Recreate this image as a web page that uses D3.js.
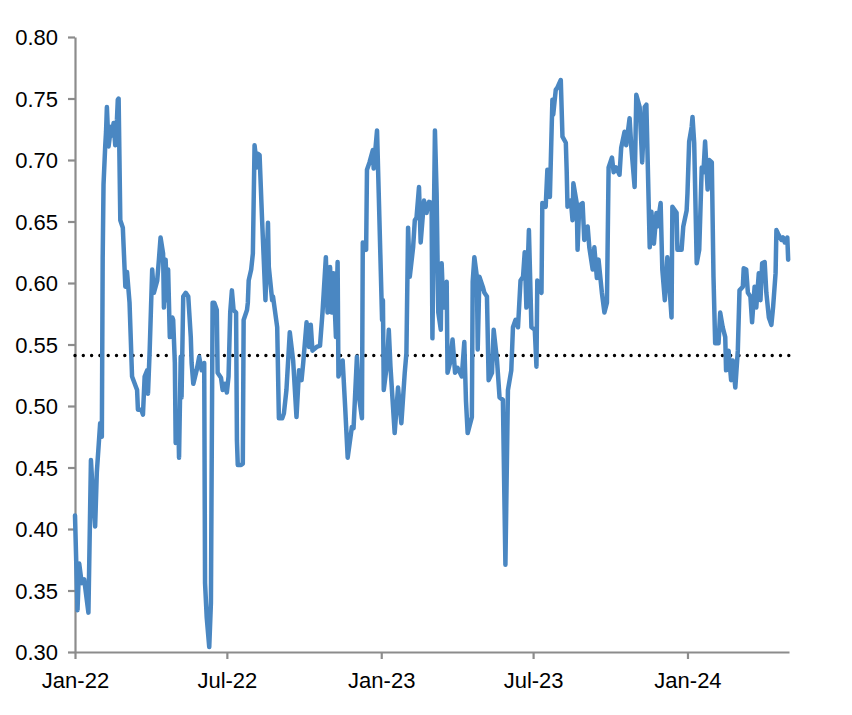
<!DOCTYPE html>
<html>
<head>
<meta charset="utf-8">
<script src="https://cdn.jsdelivr.net/npm/d3@7"></script>
<style>
  body { margin: 0; background: #fff; }
  #chart text { font-family: "Liberation Sans", Arial, sans-serif; }
</style>
</head>
<body>
<div id="chart"></div>
<script>
// series: days since 1 Jan 2022 and the value on that day
const startDate = new Date(2022, 0, 1);
const endDate = new Date(2024, 4, 1);

const days = [
    0,3,5,8,11,13,16,19,21,24,
    26,30,32,33,34,36,37,38,40,43,
    44,46,48,50,51,52,54,57,58,60,
    62,65,68,74,75,79,81,83,86,87,
    89,92,94,98,100,102,105,106,108,110,
    111,113,116,117,119,120,123,124,126,127,
    129,132,135,138,139,141,145,148,151,154,
    155,157,160,162,164,166,168,169,170,174,
    176,179,181,183,185,187,189,192,193,194,
    198,200,201,205,206,207,210,212,214,217,
    218,220,223,224,227,230,231,235,236,241,
    243,247,249,252,256,260,264,267,270,272,
    276,279,281,283,288,292,295,299,301,304,
    306,308,311,313,314,319,322,325,330,332,
    336,339,342,343,347,348,351,355,356,360,
    362,366,367,368,372,374,376,381,385,389,
    393,395,397,399,403,405,407,410,412,416,
    419,422,425,426,429,431,433,436,437,439,
    443,444,447,450,453,456,461,464,466,468,
    473,474,476,479,480,482,486,488,491,493,
    497,499,503,506,510,513,516,520,522,525,
    528,531,534,536,538,541,544,548,550,551,
    556,557,561,563,566,569,570,573,575,579,
    581,585,586,587,591,593,594,598,599,601,
    605,607,611,613,617,619,622,624,628,631,
    634,636,640,642,645,649,651,655,657,661,
    663,667,669,673,676,679,681,685,687,690,
    693,694,698,700,703,706,709,711,712,717,
    718,723,725,729,730,732,735,736,738,741,
    744,747,749,751,754,756,759,761,763,767,
    769,772,775,776,779,782,784,787,790,792,
    796,797,800,802,805,807,810,812,815,817,
    819,822,824,827,830,832,835,836,838,842,
    844,846,849,850
];

const values = [
    .411,.334,.372,.356,.359,.348,.332,.456,.432,.402,
    .446,.486,.475,.620,.680,.711,.723,.743,.711,.727,
    .720,.730,.712,.733,.749,.750,.651,.645,.629,.597,
    .609,.584,.524,.513,.497,.497,.493,.524,.529,.510,
    .545,.611,.592,.602,.619,.637,.624,.580,.619,.586,
    .611,.556,.572,.570,.535,.470,.494,.458,.540,.507,
    .589,.592,.589,.556,.535,.518,.529,.540,.529,.535,
    .356,.328,.304,.340,.584,.584,.580,.578,.527,.523,
    .513,.518,.511,.524,.576,.594,.578,.576,.472,.452,
    .452,.453,.570,.578,.584,.602,.611,.624,.712,.694,
    .705,.704,.651,.635,.586,.649,.613,.586,.589,.564,
    .490,.490,.494,.513,.560,.537,.491,.529,.521,.535,
    .568,.548,.566,.545,.548,.549,.576,.621,.576,.613,
    .576,.608,.556,.617,.524,.537,.499,.458,.483,.482,
    .540,.505,.490,.633,.627,.692,.698,.708,.693,.724,
    .673,.570,.586,.513,.535,.562,.532,.478,.515,.486,
    .527,.543,.645,.605,.629,.651,.653,.678,.633,.667,
    .657,.666,.665,.555,.724,.673,.576,.562,.616,.580,
    .601,.527,.535,.554,.527,.531,.524,.552,.504,.478,
    .491,.601,.621,.605,.546,.605,.597,.592,.589,.521,
    .527,.562,.537,.507,.505,.371,.513,.529,.564,.570,
    .564,.602,.605,.625,.580,.643,.564,.562,.532,.602,
    .592,.665,.662,.692,.670,.749,.737,.757,.759,.765,
    .719,.714,.692,.662,.667,.651,.681,.665,.627,.663,
    .665,.635,.646,.629,.611,.629,.604,.619,.592,.576,
    .584,.694,.702,.690,.694,.688,.710,.723,.712,.734,
    .711,.678,.753,.743,.698,.743,.745,.629,.658,.632,
    .657,.646,.665,.611,.586,.621,.592,.572,.662,.657,
    .627,.627,.646,.659,.673,.715,.727,.735,.714,.616,
    .627,.694,.690,.715,.676,.700,.698,.605,.551,.551,
    .576,.564,.556,.529,.545,.521,.537,.515,.545,.594,
    .597,.612,.611,.592,.589,.568,.597,.580,.608,.586,
    .616,.617,.592,.572,.566,.580,.608,.643,.640,.635,
    .637,.633,.637,.619
];

// dotted reference level
const averageLevel = 0.541;

const yTicks = [0.30, 0.35, 0.40, 0.45, 0.50, 0.55, 0.60, 0.65, 0.70, 0.75, 0.80];
const xTickDates = ["2022-01-01", "2022-07-01", "2023-01-01", "2023-07-01", "2024-01-01"];

class line_chart{

    constructor(div_id, width, height){
        var self = this;

        self.margin = {left: 75, right: 63, top: 37, bottom: 63}
        self.width = width - self.margin.left - self.margin.right;
        self.height = height - self.margin.top - self.margin.bottom;

        self.svg = d3.select(`#${div_id}`).append("svg")
            .attr("width", width)
            .attr("height", height)

        self.viz = self.svg.append("g")
            .attr("transform", `translate(${self.margin.left}, ${self.margin.top})`)

        self.xScale = d3.scaleTime()
            .range([0, self.width])
            .domain([startDate, endDate])

        self.yScale = d3.scaleLinear()
            .range([self.height, 0])
            .domain([0.30, 0.80])

        self.data = days.map((d, i) => ({date: d3.timeDay.offset(startDate, d), value: values[i]}))
        if (days.length !== values.length) console.log("length mismatch", days.length, values.length)

        self.draw()
    }

    draw(){
        var self = this;
        let axisColor = "#8c8c8c";

        self.yAxis = d3.axisLeft()
            .scale(self.yScale)
            .tickValues(yTicks)
            .tickFormat(d3.format(".2f"))
            .tickSize(7)
            .tickSizeOuter(0)
            .tickPadding(10)

        self.xAxis = d3.axisBottom()
            .scale(self.xScale)
            .tickValues(xTickDates.map(s => d3.timeParse("%Y-%m-%d")(s)))
            .tickFormat(d3.timeFormat("%b-%y"))
            .tickSize(7)
            .tickSizeOuter(0)
            .tickPadding(13)

        let gy = self.viz.append("g")
            .attr("class", "y-axis")
            .call(self.yAxis)

        let gx = self.viz.append("g")
            .attr("class", "x-axis")
            .attr("transform", `translate(0, ${self.height})`)
            .call(self.xAxis)

        for (const g of [gx, gy]) {
            g.select(".domain").attr("stroke", axisColor).attr("stroke-width", 2.2)
            g.selectAll(".tick line").attr("stroke", axisColor).attr("stroke-width", 2.2)
            g.selectAll(".tick text")
                .attr("fill", "#000")
                .style("font-size", "22px")
        }
        gy.selectAll(".tick text").attr("dy", "0.36em")

        // dotted average line
        self.viz.append("line")
            .attr("x1", self.xScale(startDate))
            .attr("x2", self.xScale(endDate))
            .attr("y1", self.yScale(averageLevel))
            .attr("y2", self.yScale(averageLevel))
            .attr("stroke", "#000")
            .attr("stroke-width", 3.4)
            .attr("stroke-linecap", "round")
            .attr("stroke-dasharray", "0 8.3")

        let line = d3.line()
            .x(d => self.xScale(d.date))
            .y(d => self.yScale(d.value))

        self.viz.append("path")
            .datum(self.data)
            .attr("d", line)
            .attr("fill", "none")
            .attr("stroke", "#4a87c2")
            .attr("stroke-width", 4.5)
            .attr("stroke-linejoin", "round")
            .attr("stroke-linecap", "round")
    }
}

new line_chart("chart", 852, 715);
</script>
</body>
</html>
